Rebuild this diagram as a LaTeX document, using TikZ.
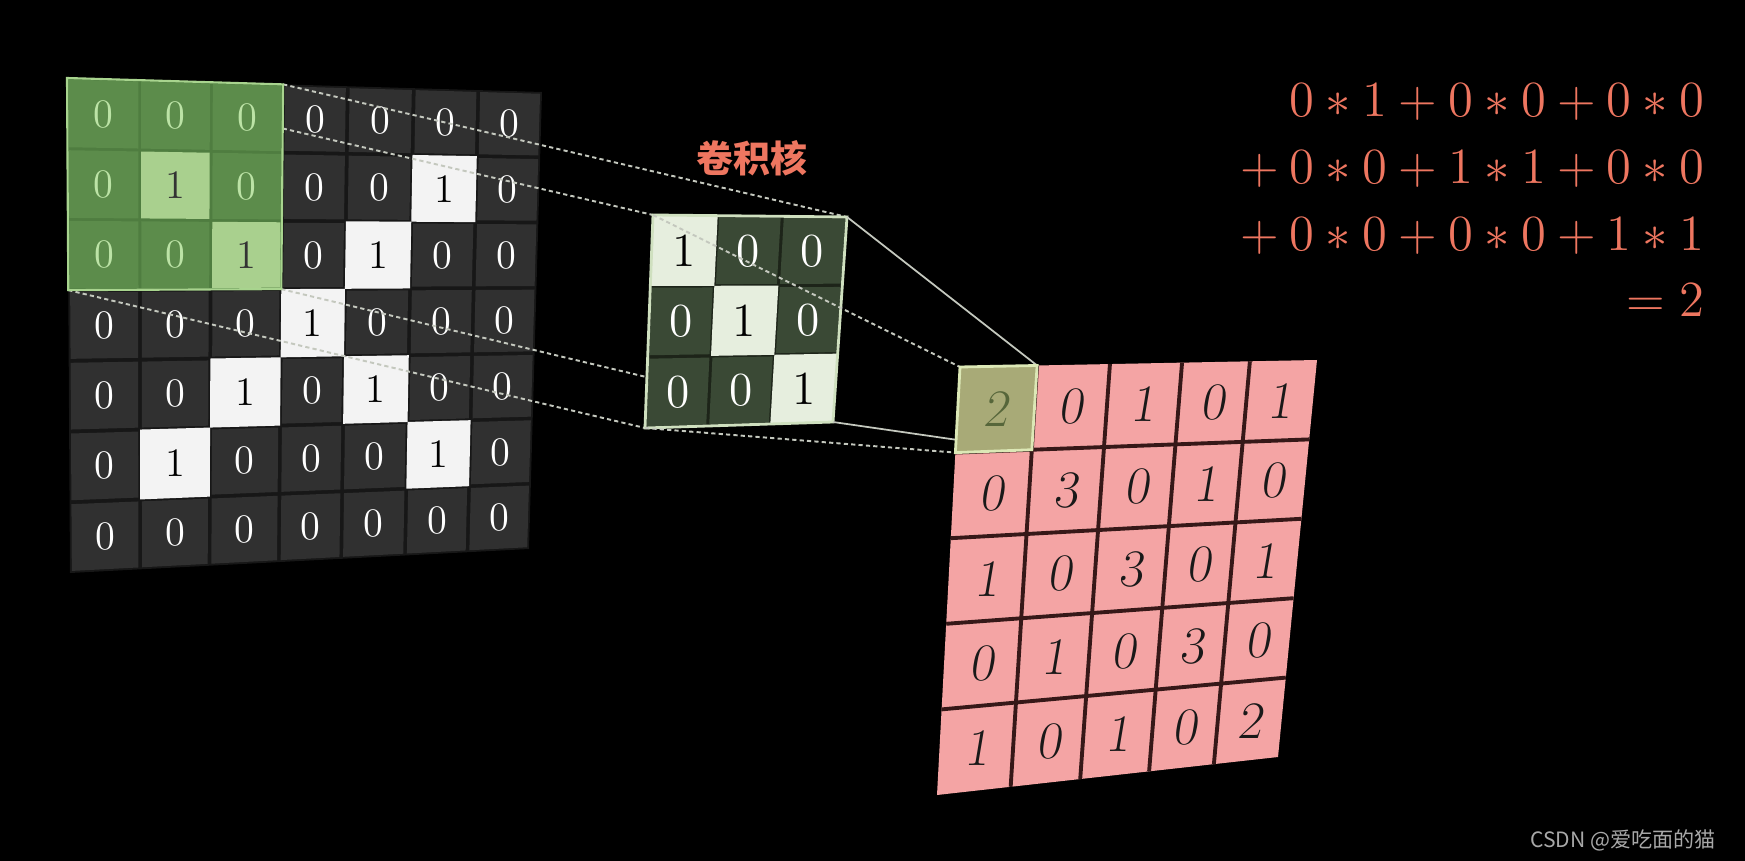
\documentclass[tikz,border=0pt]{standalone}
\usepackage{fontspec}
\newfontfamily\cjkfont{Noto Sans CJK SC}
\usetikzlibrary{calc}

\definecolor{cellgray}{HTML}{303030}
\definecolor{gapgray}{HTML}{171717}
\definecolor{cellwhite}{HTML}{F3F3F3}
\definecolor{greendark}{HTML}{5C8C4B}
\definecolor{greengap}{HTML}{4F7D40}
\definecolor{greenlight}{HTML}{A9D08E}
\definecolor{greentext}{HTML}{BCE3A6}
\definecolor{greenedge}{HTML}{A8D48E}
\definecolor{kerneldark}{HTML}{3A4935}
\definecolor{kernelgap}{HTML}{1D2419}
\definecolor{kernellight}{HTML}{E6EEDE}
\definecolor{kerneledge}{HTML}{CFE0BF}
\definecolor{outpink}{HTML}{F4A4A4}
\definecolor{gridline}{HTML}{361818}
\definecolor{outolive}{HTML}{A8AA77}
\definecolor{oliveedge}{HTML}{DCE8B6}
\definecolor{olivetext}{HTML}{56663A}
\definecolor{salmon}{HTML}{EE7660}
\definecolor{guidegray}{HTML}{C4C8BE}
\definecolor{markgray}{HTML}{A8A8A8}

% point of a four-corner grid, (u,v) in [0,1]
\newcommand{\gpt}[3]{($($(#1-tl)!#2!(#1-tr)$)!#3!($(#1-bl)!#2!(#1-br)$)$)}
\newcommand{\quadpath}[5]{\gpt{#1}{#2}{#4} -- \gpt{#1}{#3}{#4} -- \gpt{#1}{#3}{#5} -- \gpt{#1}{#2}{#5} -- cycle}

\def\incols{{0,.153,.304,.455,.591,.730,.866,1}}
\def\outcols{{0,.216,.420,.622,.812,1}}

\begin{document}
\begin{tikzpicture}[x=0.01cm, y=-0.01cm,
    dotline/.style={draw=guidegray, line width=.55pt, dash pattern=on 1.2pt off .9pt},
    solidline/.style={draw=guidegray, line width=.5pt},
    innum/.style={inner sep=0pt, font=\fontsize{11.5}{11.5}\selectfont},
    knum/.style={inner sep=0pt, font=\fontsize{13.5}{13.5}\selectfont},
    onum/.style={inner sep=0pt, font=\fontsize{15}{15}\selectfont\slshape},
    sumline/.style={inner sep=0pt, anchor=base east, text=salmon, font=\fontsize{15}{15}\selectfont}]

\fill[black] (0,0) rectangle (1745,861);
\useasboundingbox (0,0) rectangle (1745,861);

% input image 7x7
\coordinate (in-tl) at (67,78);
\coordinate (in-tr) at (542,92);
\coordinate (in-br) at (529,549);
\coordinate (in-bl) at (70,573);
\fill[gapgray] (in-tl) -- (in-tr) -- (in-br) -- (in-bl) -- cycle;
\foreach \row [count=\r from 0] in {{0,0,0,0,0,0,0},{0,1,0,0,0,1,0},{0,0,1,0,1,0,0},{0,0,0,1,0,0,0},{0,0,1,0,1,0,0},{0,1,0,0,0,1,0},{0,0,0,0,0,0,0}} {
  \foreach \v [count=\c from 0] in \row {
    \pgfmathsetmacro\ua{\incols[\c]}
    \pgfmathsetmacro\ub{\incols[\c+1]}
    \pgfmathsetmacro\um{(\ua+\ub)/2}
    \pgfmathsetmacro\uai{\ua+.004}
    \pgfmathsetmacro\ubi{\ub-.004}
    \pgfmathsetmacro\va{\r/7}
    \pgfmathsetmacro\vb{(\r+1)/7}
    \pgfmathsetmacro\vai{\va+.004}
    \pgfmathsetmacro\vbi{\vb-.004}
    \pgfmathsetmacro\vm{(\r+.5)/7}
    \ifnum\v=1
      \fill[cellwhite] \quadpath{in}{\ua}{\ub}{\va}{\vb};
      \path \gpt{in}{\um}{\vm} node[innum, text=black] (in-\r-\c) {1};
    \else
      \fill[cellgray] \quadpath{in}{\uai}{\ubi}{\vai}{\vbi};
      \path \gpt{in}{\um}{\vm} node[innum, text=white] (in-\r-\c) {0};
    \fi
  }
}

% window corners and kernel corners
\path \gpt{in}{0}{0} coordinate (g-tl);
\path \gpt{in}{0.455}{0} coordinate (g-tr);
\path \gpt{in}{0.455}{0.42857} coordinate (g-br);
\path \gpt{in}{0}{0.42857} coordinate (g-bl);
\coordinate (k-tl) at (653,215);
\coordinate (k-tr) at (847,217);
\coordinate (k-br) at (833,422);
\coordinate (k-bl) at (645,428);

\draw[dotline] (g-tl) -- (k-tl);
\draw[dotline] (g-tr) -- (k-tr);
\draw[dotline] (g-br) -- (k-br);
\draw[dotline] (g-bl) -- (k-bl);

% green window
\fill[greengap] (g-tl) -- (g-tr) -- (g-br) -- (g-bl) -- cycle;
\foreach \row [count=\r from 0] in {{0,0,0},{0,1,0},{0,0,1}} {
  \foreach \v [count=\c from 0] in \row {
    \pgfmathsetmacro\ua{\incols[\c]}
    \pgfmathsetmacro\ub{\incols[\c+1]}
    \pgfmathsetmacro\um{(\ua+\ub)/2}
    \pgfmathsetmacro\uai{\ua+.003}
    \pgfmathsetmacro\ubi{\ub-.003}
    \pgfmathsetmacro\vai{\r/7+.003}
    \pgfmathsetmacro\vbi{(\r+1)/7-.003}
    \pgfmathsetmacro\vm{(\r+.5)/7}
    \ifnum\v=1
      \fill[greenlight] \quadpath{in}{\uai}{\ubi}{\vai}{\vbi};
      \path \gpt{in}{\um}{\vm} node[innum, text=black!80] (g-\r-\c) {1};
    \else
      \fill[greendark] \quadpath{in}{\uai}{\ubi}{\vai}{\vbi};
      \path \gpt{in}{\um}{\vm} node[innum, text=greentext] (g-\r-\c) {0};
    \fi
  }
}
\draw[greenedge, line width=.6pt] (g-tl) -- (g-tr) -- (g-br) -- (g-bl) -- cycle;

% kernel 3x3
\node[text=salmon, font={\cjkfont\bfseries\fontsize{10.5}{12}\selectfont}] (kernel-label) at (752,158) {卷积核};
\fill[kernelgap] (k-tl) -- (k-tr) -- (k-br) -- (k-bl) -- cycle;
\foreach \row [count=\r from 0] in {{1,0,0},{0,1,0},{0,0,1}} {
  \foreach \v [count=\c from 0] in \row {
    \pgfmathsetmacro\ua{\c/3}
    \pgfmathsetmacro\ub{(\c+1)/3}
    \pgfmathsetmacro\um{(\c+.5)/3}
    \pgfmathsetmacro\uai{\ua+.008}
    \pgfmathsetmacro\ubi{\ub-.008}
    \pgfmathsetmacro\va{\r/3}
    \pgfmathsetmacro\vb{(\r+1)/3}
    \pgfmathsetmacro\vai{\va+.008}
    \pgfmathsetmacro\vbi{\vb-.008}
    \pgfmathsetmacro\vm{(\r+.5)/3}
    \ifnum\v=1
      \fill[kernellight] \quadpath{k}{\ua}{\ub}{\va}{\vb};
      \path \gpt{k}{\um}{\vm} node[knum, text=black] (k-\r-\c) {1};
    \else
      \fill[kerneldark] \quadpath{k}{\uai}{\ubi}{\vai}{\vbi};
      \path \gpt{k}{\um}{\vm} node[knum, text=white] (k-\r-\c) {0};
    \fi
  }
}
\draw[kerneledge, line width=.8pt] (k-tl) -- (k-tr) -- (k-br) -- (k-bl) -- cycle;

% output 5x5
\coordinate (o-tl) at (960,367);
\coordinate (o-tr) at (1317,360);
\coordinate (o-br) at (1278,757);
\coordinate (o-bl) at (937,795);
\path \gpt{o}{0}{0} coordinate (c-tl);
\path \gpt{o}{0.216}{0} coordinate (c-tr);
\path \gpt{o}{0}{0.17} coordinate (c-ml);
\path \gpt{o}{0}{0.2} coordinate (c-bl);

\draw[dotline] (k-tl) -- (c-tl);
\draw[solidline] (k-tr) -- (c-tr);
\draw[solidline] (k-br) -- (c-ml);
\draw[dotline] (k-bl) -- (c-bl);

\fill[outpink] (o-tl) -- (o-tr) -- (o-br) -- (o-bl) -- cycle;
\foreach \i in {1,...,4} {
  \pgfmathsetmacro\uu{\outcols[\i]}
  \pgfmathsetmacro\ww{\i/5}
  \draw[gridline, line width=1.1pt] \gpt{o}{\uu}{0} -- \gpt{o}{\uu}{1};
  \draw[gridline, line width=1.1pt] \gpt{o}{0}{\ww} -- \gpt{o}{1}{\ww};
}
\fill[outolive] \quadpath{o}{0}{0.216}{0}{0.2};
\draw[oliveedge, line width=.8pt] \quadpath{o}{0}{0.216}{0}{0.2};
\foreach \row [count=\r from 0] in {{2,0,1,0,1},{0,3,0,1,0},{1,0,3,0,1},{0,1,0,3,0},{1,0,1,0,2}} {
  \foreach \v [count=\c from 0] in \row {
    \pgfmathsetmacro\ua{\outcols[\c]}
    \pgfmathsetmacro\ub{\outcols[\c+1]}
    \pgfmathsetmacro\um{(\ua+\ub)/2}
    \pgfmathsetmacro\vm{(\r+.5)/5}
    \pgfmathtruncatemacro\idx{\r*5+\c}
    \ifnum\idx=0
      \path \gpt{o}{\um}{\vm} node[onum, text=olivetext] (o-\r-\c) {\v};
    \else
      \path \gpt{o}{\um}{\vm} node[onum, text=black!90] (o-\r-\c) {\v};
    \fi
  }
}

% sum for the first position
\node[sumline] (sum-1) at (1705,117) {$0*1+0*0+0*0$};
\node[sumline] (sum-2) at (1705,184) {${}+0*0+1*1+0*0$};
\node[sumline] (sum-3) at (1705,251) {${}+0*0+0*0+1*1$};
\node[sumline] (sum-4) at (1705,317) {${}=2$};

\node[anchor=east, text=markgray, font={\cjkfont\fontsize{6}{6}\selectfont}] (mark) at (1728,840) {CSDN @爱吃面的猫};
\end{tikzpicture}
\end{document}
